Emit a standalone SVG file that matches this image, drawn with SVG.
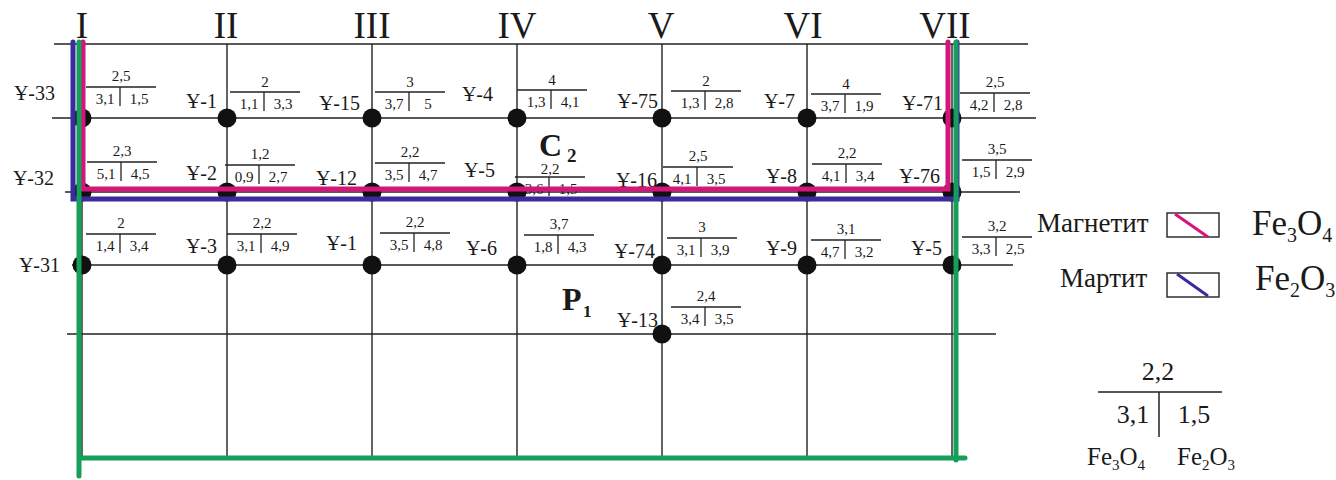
<svg xmlns="http://www.w3.org/2000/svg" width="1336" height="480" viewBox="0 0 1336 480">
<style>
.t{font-family:"Liberation Serif","DejaVu Serif",serif;fill:#1a1a1a}
.rn{font-size:37px;text-anchor:middle}
.wl{font-size:20px;text-anchor:end}
.bn{font-size:15px;text-anchor:middle}
.gl{stroke:#222;stroke-width:1.4;fill:none}
.bl{stroke:#222;stroke-width:1.3}
.nd{fill:#111}
.pk{stroke:#d4157a;stroke-width:5;fill:none;stroke-linecap:round}
.bu{stroke:#3a2c9c;stroke-width:5;fill:none;stroke-linecap:round}
.gr{stroke:#14a05a;stroke-width:5;fill:none;stroke-linecap:round}
.big{font-size:32px;font-weight:bold}
.sub{font-weight:bold}
.lg{font-size:27px}
.fe{font-size:35px}
</style>
<defs>
<g id="sep"><line class="bl" x1="0" y1="0" x2="70" y2="0"/><line class="bl" x1="34" y1="0" x2="34" y2="19"/></g>
</defs>
<rect width="1336" height="480" fill="#fff"/>
<g id="grid">
<line class="gl" x1="54" y1="44" x2="1028" y2="44"/>
<line class="gl" x1="52" y1="118" x2="1036" y2="118"/>
<line class="gl" x1="65" y1="192" x2="1020" y2="192"/>
<line class="gl" x1="72" y1="265" x2="1013" y2="265"/>
<line class="gl" x1="67" y1="334" x2="996" y2="334"/>
<line class="gl" x1="82" y1="44" x2="82" y2="458"/>
<line class="gl" x1="227" y1="44" x2="227" y2="458"/>
<line class="gl" x1="372" y1="44" x2="372" y2="458"/>
<line class="gl" x1="517" y1="44" x2="517" y2="458"/>
<line class="gl" x1="662" y1="44" x2="662" y2="458"/>
<line class="gl" x1="807" y1="44" x2="807" y2="458"/>
<line class="gl" x1="952" y1="44" x2="952" y2="458"/>
</g>
<g id="profiles" class="t rn">
<text x="82" y="38">I</text><text x="226" y="38">II</text><text x="372" y="38">III</text><text x="517" y="38">IV</text><text x="661" y="38">V</text><text x="803" y="38">VI</text><text x="945" y="38">VII</text>
</g>
<g id="w33"><circle class="nd" cx="82" cy="118" r="9.5"/><text class="t wl" x="55" y="100">Ұ-33</text><g transform="translate(86,87)"><use href="#sep"/><text class="t bn" x="35" y="-6">2,5</text><text class="t bn" x="19" y="17">3,1</text><text class="t bn" x="53" y="17">1,5</text></g></g>
<g id="w1a"><circle class="nd" cx="227" cy="118" r="9.5"/><text class="t wl" x="217" y="108">Ұ-1</text><g transform="translate(230,92)"><use href="#sep"/><text class="t bn" x="35" y="-5">2</text><text class="t bn" x="19" y="17">1,1</text><text class="t bn" x="53" y="17">3,3</text></g></g>
<g id="w15"><circle class="nd" cx="372" cy="118" r="9.5"/><text class="t wl" x="360" y="110">Ұ-15</text><g transform="translate(375,92)"><use href="#sep"/><text class="t bn" x="35" y="-5">3</text><text class="t bn" x="19" y="17">3,7</text><text class="t bn" x="53" y="17">5</text></g></g>
<g id="w4"><circle class="nd" cx="517" cy="118" r="9.5"/><text class="t wl" x="493" y="101">Ұ-4</text><g transform="translate(517,90)"><use href="#sep"/><text class="t bn" x="35" y="-5">4</text><text class="t bn" x="19" y="17">1,3</text><text class="t bn" x="53" y="17">4,1</text></g></g>
<g id="w75"><circle class="nd" cx="662" cy="118" r="9.5"/><text class="t wl" x="658" y="108">Ұ-75</text><g transform="translate(671,91)"><use href="#sep"/><text class="t bn" x="35" y="-5">2</text><text class="t bn" x="19" y="17">1,3</text><text class="t bn" x="53" y="17">2,8</text></g></g>
<g id="w7"><circle class="nd" cx="807" cy="118" r="9.5"/><text class="t wl" x="795" y="108">Ұ-7</text><g transform="translate(811,94)"><use href="#sep"/><text class="t bn" x="35" y="-5">4</text><text class="t bn" x="19" y="17">3,7</text><text class="t bn" x="53" y="17">1,9</text></g></g>
<g id="w71"><circle class="nd" cx="952" cy="118" r="9.5"/><text class="t wl" x="943" y="110">Ұ-71</text><g transform="translate(960,93)"><use href="#sep"/><text class="t bn" x="35" y="-6">2,5</text><text class="t bn" x="19" y="17">4,2</text><text class="t bn" x="53" y="17">2,8</text></g></g>
<g id="w32"><circle class="nd" cx="82" cy="192" r="9.5"/><text class="t wl" x="54" y="185">Ұ-32</text><g transform="translate(87,162)"><use href="#sep"/><text class="t bn" x="35" y="-6">2,3</text><text class="t bn" x="19" y="17">5,1</text><text class="t bn" x="53" y="17">4,5</text></g></g>
<g id="w2"><circle class="nd" cx="227" cy="192" r="9.5"/><text class="t wl" x="217" y="180">Ұ-2</text><g transform="translate(225,165)"><use href="#sep"/><text class="t bn" x="35" y="-6">1,2</text><text class="t bn" x="19" y="17">0,9</text><text class="t bn" x="53" y="17">2,7</text></g></g>
<g id="w12"><circle class="nd" cx="372" cy="192" r="9.5"/><text class="t wl" x="357" y="185">Ұ-12</text><g transform="translate(375,163)"><use href="#sep"/><text class="t bn" x="35" y="-6">2,2</text><text class="t bn" x="19" y="17">3,5</text><text class="t bn" x="53" y="17">4,7</text></g></g>
<g id="w5a"><circle class="nd" cx="517" cy="192" r="9.5"/><text class="t wl" x="495" y="177">Ұ-5</text><g transform="translate(515,177)"><use href="#sep"/><text class="t bn" x="35" y="-3">2,2</text><text class="t bn" x="19" y="17">3,6</text><text class="t bn" x="53" y="17">1,5</text></g></g>
<g id="w16"><circle class="nd" cx="662" cy="192" r="9.5"/><text class="t wl" x="657" y="187">Ұ-16</text><g transform="translate(663,167)"><use href="#sep"/><text class="t bn" x="35" y="-6">2,5</text><text class="t bn" x="19" y="17">4,1</text><text class="t bn" x="53" y="17">3,5</text></g></g>
<g id="w8"><circle class="nd" cx="807" cy="192" r="9.5"/><text class="t wl" x="797" y="183">Ұ-8</text><g transform="translate(812,164)"><use href="#sep"/><text class="t bn" x="35" y="-6">2,2</text><text class="t bn" x="19" y="17">4,1</text><text class="t bn" x="53" y="17">3,4</text></g></g>
<g id="w76"><circle class="nd" cx="952" cy="192" r="9.5"/><text class="t wl" x="940" y="183">Ұ-76</text><g transform="translate(962,160)"><use href="#sep"/><text class="t bn" x="35" y="-6">3,5</text><text class="t bn" x="19" y="17">1,5</text><text class="t bn" x="53" y="17">2,9</text></g></g>
<g id="w31"><circle class="nd" cx="82" cy="265" r="9.5"/><text class="t wl" x="60" y="272">Ұ-31</text><g transform="translate(86,234)"><use href="#sep"/><text class="t bn" x="35" y="-6">2</text><text class="t bn" x="19" y="17">1,4</text><text class="t bn" x="53" y="17">3,4</text></g></g>
<g id="w3"><circle class="nd" cx="227" cy="265" r="9.5"/><text class="t wl" x="217" y="253">Ұ-3</text><g transform="translate(227,234)"><use href="#sep"/><text class="t bn" x="35" y="-6">2,2</text><text class="t bn" x="19" y="17">3,1</text><text class="t bn" x="53" y="17">4,9</text></g></g>
<g id="w1b"><circle class="nd" cx="372" cy="265" r="9.5"/><text class="t wl" x="357" y="250">Ұ-1</text><g transform="translate(380,233)"><use href="#sep"/><text class="t bn" x="35" y="-6">2,2</text><text class="t bn" x="19" y="17">3,5</text><text class="t bn" x="53" y="17">4,8</text></g></g>
<g id="w6"><circle class="nd" cx="517" cy="265" r="9.5"/><text class="t wl" x="497" y="255">Ұ-6</text><g transform="translate(524,235)"><use href="#sep"/><text class="t bn" x="35" y="-6">3,7</text><text class="t bn" x="19" y="17">1,8</text><text class="t bn" x="53" y="17">4,3</text></g></g>
<g id="w74"><circle class="nd" cx="662" cy="265" r="9.5"/><text class="t wl" x="655" y="258">Ұ-74</text><g transform="translate(667,238)"><use href="#sep"/><text class="t bn" x="35" y="-6">3</text><text class="t bn" x="19" y="17">3,1</text><text class="t bn" x="53" y="17">3,9</text></g></g>
<g id="w9"><circle class="nd" cx="807" cy="265" r="9.5"/><text class="t wl" x="797" y="255">Ұ-9</text><g transform="translate(811,240)"><use href="#sep"/><text class="t bn" x="35" y="-6">3,1</text><text class="t bn" x="19" y="17">4,7</text><text class="t bn" x="53" y="17">3,2</text></g></g>
<g id="w5b"><circle class="nd" cx="952" cy="265" r="9.5"/><text class="t wl" x="942" y="255">Ұ-5</text><g transform="translate(962,237)"><use href="#sep"/><text class="t bn" x="35" y="-6">3,2</text><text class="t bn" x="19" y="17">3,3</text><text class="t bn" x="53" y="17">2,5</text></g></g>
<g id="w13"><circle class="nd" cx="662" cy="334" r="9.5"/><text class="t wl" x="658" y="327">Ұ-13</text><g transform="translate(671,307)"><use href="#sep"/><text class="t bn" x="35" y="-6">2,4</text><text class="t bn" x="19" y="17">3,4</text><text class="t bn" x="53" y="17">3,5</text></g></g>
<g id="strata" class="t">
<text class="big" x="539" y="156">C</text><text class="sub" x="567" y="162" font-size="19">2</text>
<text class="big" x="562" y="310">P</text><text class="sub" x="583" y="317" font-size="17">1</text>
</g>
<g id="connectors">
<path class="bu" d="M73,42 V199 H957 V42"/>
<path class="pk" d="M83,42 V189 H948 V42"/>
<path class="gr" d="M79,42 V476 M80,458 H965 M956,42 V460"/>
</g>
<g id="legend" class="t">
<text class="lg" x="1037" y="232">Магнетит</text>
<rect x="1167" y="213" width="52" height="24" fill="none" stroke="#222" stroke-width="1.4"/>
<line x1="1175" y1="214" x2="1208" y2="237" stroke="#d4157a" stroke-width="3"/>
<text class="fe" x="1252" y="235">Fe<tspan font-size="20" dy="7">3</tspan><tspan dy="-7">O</tspan><tspan font-size="20" dy="7">4</tspan></text>
<text class="lg" x="1060" y="287">Мартит</text>
<rect x="1167" y="273" width="52" height="24" fill="none" stroke="#222" stroke-width="1.4"/>
<line x1="1177" y1="274" x2="1208" y2="296" stroke="#3a2c9c" stroke-width="3"/>
<text class="fe" x="1255" y="290">Fe<tspan font-size="20" dy="7">2</tspan><tspan dy="-7">O</tspan><tspan font-size="20" dy="7">3</tspan></text>
</g>
<g id="key" class="t">
<text x="1158" y="380" font-size="26" text-anchor="middle">2,2</text>
<line x1="1098" y1="392" x2="1222" y2="392" stroke="#222" stroke-width="1.5"/>
<line x1="1159" y1="392" x2="1159" y2="437" stroke="#222" stroke-width="1.5"/>
<text x="1133" y="423" font-size="26" text-anchor="middle">3,1</text>
<text x="1194" y="423" font-size="26" text-anchor="middle">1,5</text>
<text x="1087" y="465" font-size="25">Fe<tspan font-size="15" dy="5">3</tspan><tspan dy="-5">O</tspan><tspan font-size="15" dy="5">4</tspan></text>
<text x="1177" y="465" font-size="25">Fe<tspan font-size="15" dy="5">2</tspan><tspan dy="-5">O</tspan><tspan font-size="15" dy="5">3</tspan></text>
</g>
</svg>
